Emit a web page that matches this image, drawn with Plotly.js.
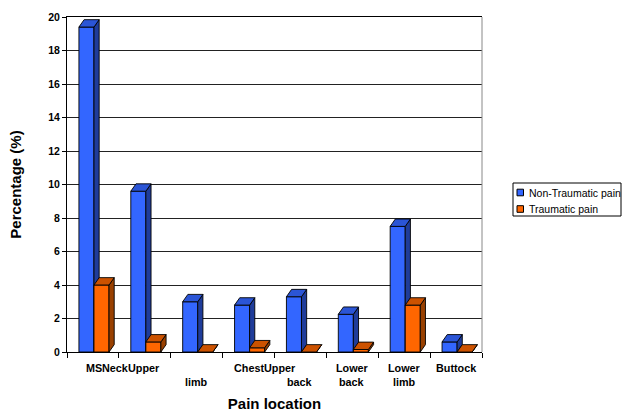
<!DOCTYPE html>
<html>
<head>
<meta charset="utf-8">
<script src="https://cdn.plot.ly/plotly-3.0.1.min.js"></script>
<style>html,body{margin:0;padding:0;background:#fff;}#chart{width:622px;height:412px;}</style>
</head>
<body>
<div id="chart"></div>
<script>
// ---- data ----
const categories = ['MS', 'Neck', 'Upper limb', 'Chest', 'Upper back', 'Lower back', 'Lower limb', 'Buttock'];
const nonTraumatic = [19.4, 9.6, 3.0, 2.8, 3.3, 2.25, 7.5, 0.6];
const traumatic = [4.0, 0.6, 0, 0.25, 0, 0.15, 2.8, 0];
const seriesNames = ['Non-Traumatic pain', 'Traumatic pain'];
const yTickValues = [0, 2, 4, 6, 8, 10, 12, 14, 16, 18, 20];
const xLabelLine1 = ['MS', 'Neck', 'Upper', 'Chest', 'Upper', 'Lower', 'Lower', 'Buttock'];
const xLabelLine2 = ['limb', 'back', 'back', 'limb'];
const xTitle = 'Pain location';
const yTitle = 'Percentage (%)';

// ---- styling / geometry ----
const FONT = 'Arial, "Liberation Sans", sans-serif';
const colors = [
  {front: '#3366FF', top: '#2B55D6', side: '#1F3C9A'},
  {front: '#FF6600', top: '#CC5200', side: '#994000'}
];
const barWidth = 0.29;
const offsets = [-0.27, 0.02];
const dx = 0.1, dy = 0.44;
const line1Pos = [0.02, 0.43, 0.98, 3.0, 3.6, 5, 6, 7];
const line2Pos = [2, 4, 5, 6];

const traces = [];
[nonTraumatic, traumatic].forEach((vals, s) => {
  const c = colors[s];
  vals.forEach((v, i) => {
    const x0 = i + offsets[s], x1 = x0 + barWidth;
    const faces = [
      {xs: [x0, x1, x1, x0, x0], ys: [0, 0, v, v, 0], col: c.front},
      {xs: [x1, x1 + dx, x1 + dx, x1, x1], ys: [0, dy, v + dy, v, 0], col: c.side},
      {xs: [x0, x1, x1 + dx, x0 + dx, x0], ys: [v, v, v + dy, v + dy, v], col: c.top}
    ];
    faces.forEach(f => traces.push({
      type: 'scatter', mode: 'lines', x: f.xs, y: f.ys,
      fill: 'toself', fillcolor: f.col,
      line: {color: '#000', width: 0.9},
      showlegend: false, hoverinfo: 'skip', name: seriesNames[s]
    }));
  });
});

// x labels as text
const px2x = p => (p - 67) / 415, px2y = p => (352 - p) / 335;
const annotations = [];
xLabelLine1.forEach((t, i) => annotations.push({
  text: t, x: line1Pos[i], xref: 'x', y: px2y(368), yref: 'paper',
  xanchor: 'center', yanchor: 'middle', showarrow: false,
  font: {family: FONT, size: 10.8, color: '#000', weight: 'bold'}
}));
xLabelLine2.forEach((t, i) => annotations.push({
  text: t, x: line2Pos[i], xref: 'x', y: px2y(381.5), yref: 'paper',
  xanchor: 'center', yanchor: 'middle', showarrow: false,
  font: {family: FONT, size: 10.8, color: '#000', weight: 'bold'}
}));
// legend (drawn manually to match compact box)
const legY = [192.5, 209];
seriesNames.forEach((n, s) => annotations.push({
  text: n, x: px2x(526.5), xref: 'paper', y: px2y(legY[s]), yref: 'paper',
  xanchor: 'left', yanchor: 'middle', showarrow: false,
  font: {family: FONT, size: 10.5, color: '#000'}
}));
const shapes = [
  {type: 'line', xref: 'paper', yref: 'paper', x0: 1, x1: 1, y0: 0, y1: 1, line: {color: '#888', width: 1}},
  {type: 'rect', xref: 'paper', yref: 'paper', x0: px2x(513), x1: px2x(621), y0: px2y(183), y1: px2y(216),
   line: {color: '#000', width: 1}, fillcolor: '#fff'}
];
seriesNames.forEach((n, s) => shapes.push({
  type: 'rect', xref: 'paper', yref: 'paper',
  x0: px2x(517), x1: px2x(523.5), y0: px2y(legY[s] - 3.3), y1: px2y(legY[s] + 3.3),
  line: {color: '#000', width: 1}, fillcolor: colors[s].front
}));

const boundaries = categories.map((_, i) => i - 0.5).concat([categories.length - 0.5]);

const layout = {
  width: 622, height: 412,
  margin: {l: 67, r: 140, t: 17, b: 60, pad: 0},
  paper_bgcolor: '#fff', plot_bgcolor: '#fff',
  font: {family: FONT, color: '#000'},
  showlegend: false,
  xaxis: {
    range: [-0.5, categories.length - 0.5], tickmode: 'array', tickvals: boundaries,
    ticktext: boundaries.map(() => ''), showticklabels: false,
    ticks: 'outside', ticklen: 5, tickcolor: '#000', tickwidth: 1,
    showgrid: false, zeroline: false, showline: true, linecolor: '#000', linewidth: 1, mirror: true,
    title: {text: xTitle, font: {family: FONT, size: 15, color: '#000', weight: 'bold'}, standoff: 42},
    fixedrange: true
  },
  yaxis: {
    range: [0, 20], tickmode: 'array', tickvals: yTickValues,
    ticks: 'outside', ticklen: 4, tickcolor: '#000',
    tickfont: {family: FONT, size: 10.5, color: '#000', weight: 'bold'},
    showgrid: true, gridcolor: '#222', gridwidth: 1, zeroline: false,
    showline: true, linecolor: '#000', linewidth: 1,
    title: {text: yTitle, font: {family: FONT, size: 15, color: '#000', weight: 'bold'}, standoff: 22},
    fixedrange: true
  },
  annotations: annotations,
  shapes: shapes
};

Plotly.newPlot('chart', traces, layout, {displayModeBar: false, staticPlot: true});
</script>
</body>
</html>
